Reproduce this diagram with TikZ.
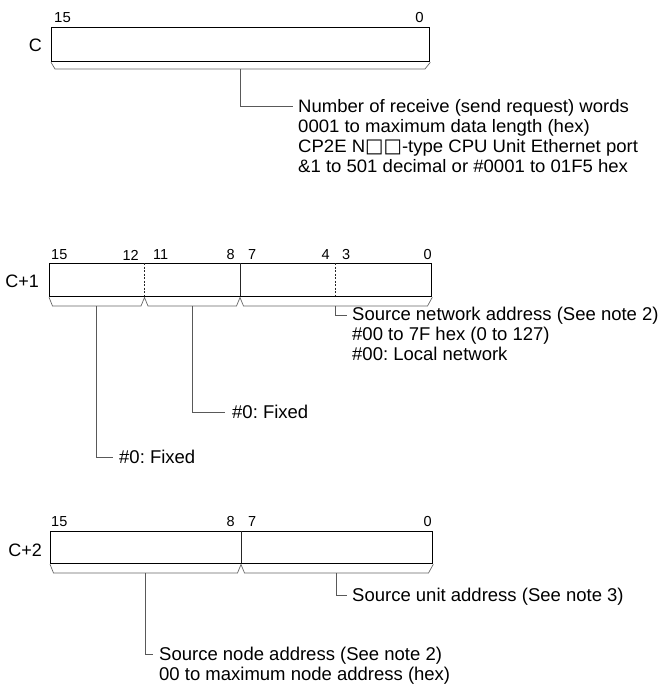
\documentclass[tikz,border=0pt]{standalone}
\usepackage{fontspec}
\setmainfont{Liberation Sans}
\newfontfamily\widesans[FakeStretch=1.03]{Liberation Sans}
\newfontfamily\symfont{DejaVu Sans}
\frenchspacing
\begin{document}
\begin{tikzpicture}[x=1pt,y=-1pt,
  reg/.style={draw=black, line width=1.3pt, inner sep=0pt, anchor=north west},
  divsolid/.style={draw=black!85, line width=0.8pt},
  divdash/.style={draw=black!85, line width=0.7pt, dash pattern=on 2pt off 1.5pt},
  bracket/.style={draw=black!60, line width=0.7pt},
  leader/.style={draw=black!65, line width=0.8pt},
  bitnum/.style={inner sep=0pt, font=\fontsize{14.5}{16}\selectfont},
  widebitnum/.style={inner sep=0pt, font=\widesans\fontsize{14.5}{16}\selectfont},
  wordlbl/.style={inner sep=0pt, anchor=east, font=\fontsize{18}{20}\selectfont},
  desc/.style={inner sep=0pt, align=left, font=\fontsize{18.5}{20}\selectfont},
  widedesc/.style={inner sep=0pt, align=left, font=\widesans\fontsize{18}{20}\selectfont},
]
\useasboundingbox (0,0) rectangle (659,686);

% ---------------- Word C ----------------
\node[reg, minimum width=378pt, minimum height=34pt] (C) at (51,27) {};
\node[wordlbl] (Clbl) at (42,45) {C};
\node[widebitnum, anchor=west] (C15) at (54,17.5) {15};
\node[widebitnum, anchor=east] (C0) at (424,17.5) {0};
\draw[bracket] (C.south west) -- (55,69) -- (425,69) -- (C.south east);
\coordinate (Cb) at (240,69);
\coordinate (Ce) at (293,106);
\draw[leader] (Cb) |- (Ce);
\node[widedesc, anchor=north west] (Ctext) at (298,99.3)
  {Number of receive (send request) words\\
   0001 to maximum data length (hex)\\
   CP2E N{\symfont\fontsize{19.5}{20}\selectfont\symbol{"25A1}\symbol{"25A1}}-type CPU Unit Ethernet port\\
   \&1 to 501 decimal or \#0001 to 01F5 hex};

% ---------------- Word C+1 ----------------
\node[reg, minimum width=382pt, minimum height=33pt] (D) at (49,263) {};
\node[wordlbl] (Dlbl) at (39,281) {C+1};
\draw[divdash] (144.5,263) -- (144.5,296);
\draw[divsolid] (240,263) -- (240,296);
\draw[divdash] (335.5,263) -- (335.5,296);
\node[bitnum, anchor=west] (D15) at (51,255) {15};
\node[bitnum, anchor=east] (D12) at (139,255) {12};
\node[bitnum, anchor=west] (D11) at (153,255) {11};
\node[bitnum, anchor=east] (D8) at (235,255) {8};
\node[bitnum, anchor=west] (D7) at (248,255) {7};
\node[bitnum, anchor=east] (D4) at (330,255) {4};
\node[bitnum, anchor=west] (D3) at (342,255) {3};
\node[bitnum, anchor=east] (D0) at (432,255) {0};
\draw[bracket] (D.south west) -- (52.5,306) -- (141,306) -- (144.5,297.5) -- (148,306)
  -- (236.5,306) -- (240,297.5) -- (243.5,306) -- (427.5,306) -- (D.south east);
\coordinate (Db1) at (96.5,306);
\coordinate (Db2) at (192,306);
\coordinate (Db3) at (335.5,306);
\coordinate (De1) at (113,457);
\coordinate (De2) at (225,412);
\coordinate (De3) at (347,315);
\draw[leader] (Db1) |- (De1);
\draw[leader] (Db2) |- (De2);
\draw[leader] (Db3) |- (De3);
\node[desc, anchor=west] (Dt1) at (119,457) {\#0: Fixed};
\node[desc, anchor=west] (Dt2) at (232,412) {\#0: Fixed};
\node[desc, anchor=north west] (Dt3) at (352,307.3)
  {Source network address (See note 2)\\
   \#00 to 7F hex (0 to 127)\\
   \#00: Local network};

% ---------------- Word C+2 ----------------
\node[reg, minimum width=382pt, minimum height=32pt] (E) at (50,531) {};
\node[wordlbl] (Elbl) at (42,550) {C+2};
\draw[divsolid] (241,531) -- (241,563);
\node[bitnum, anchor=west] (E15) at (51,522) {15};
\node[bitnum, anchor=east] (E8) at (235,522) {8};
\node[bitnum, anchor=west] (E7) at (248,522) {7};
\node[bitnum, anchor=east] (E0) at (432,522) {0};
\draw[bracket] (E.south west) -- (53.5,573) -- (237.5,573) -- (241,564.5) -- (244.5,573)
  -- (428.5,573) -- (E.south east);
\coordinate (Eb1) at (145.5,573);
\coordinate (Eb2) at (336.5,573);
\coordinate (Ee1) at (153,654);
\coordinate (Ee2) at (347,595);
\draw[leader] (Eb1) |- (Ee1);
\draw[leader] (Eb2) |- (Ee2);
\node[desc, anchor=north west] (Et1) at (159,647.3)
  {Source node address (See note 2)\\
   00 to maximum node address (hex)};
\node[desc, anchor=north west] (Et2) at (352,588.3)
  {Source unit address (See note 3)};
\end{tikzpicture}
\end{document}
